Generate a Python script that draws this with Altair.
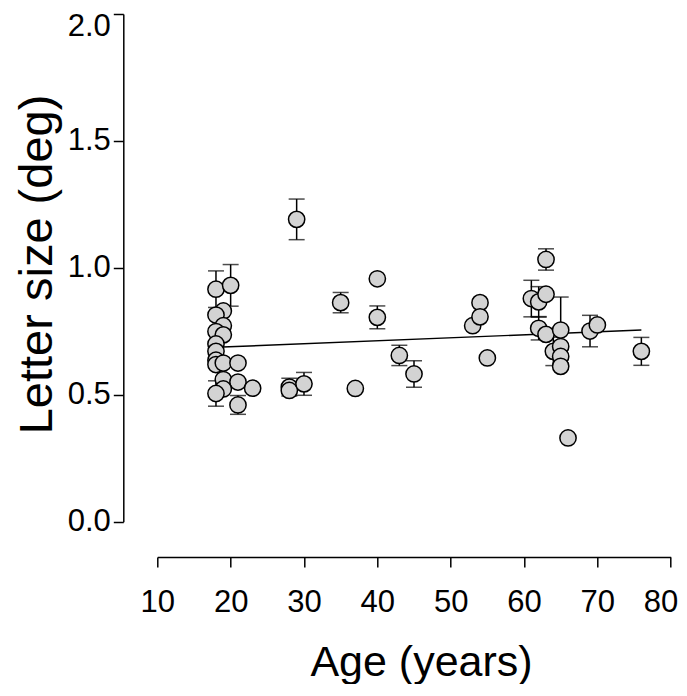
import altair as alt
import pandas as pd

# ---- data ----
ages = [18, 20, 19, 18, 19, 18, 19, 18, 18, 18, 18, 19, 21, 19, 21, 23, 19, 18, 21,
        28, 28, 29, 30, 35, 37, 40, 40, 43, 45,
        53, 54, 54, 55, 61, 62, 63, 62, 63, 65, 64, 65, 65, 65, 69, 70, 76, 66, 63]
sizes = [0.916, 0.931, 0.830, 0.814, 0.772, 0.749, 0.736, 0.700, 0.671, 0.636, 0.619, 0.625, 0.625,
         0.560, 0.550, 0.526, 0.523, 0.505, 0.460,
         0.530, 0.517, 1.191, 0.543, 0.863, 0.525, 0.957, 0.805, 0.655, 0.582,
         0.772, 0.863, 0.807, 0.645, 0.879, 0.866, 0.896, 0.762, 0.738, 0.755, 0.671, 0.690,
         0.651, 0.612, 0.751, 0.775, 0.671, 0.330, 1.033]
errors = [0.072, 0.082, 0, 0, 0, 0, 0, 0, 0, 0, 0, 0, 0, 0, 0, 0, 0, 0.050, 0.037,
          0.035, 0, 0.080, 0.045, 0.040, 0, 0, 0.045, 0.040, 0.052,
          0, 0, 0, 0, 0.072, 0.060, 0, 0.046, 0, 0.130, 0.056, 0,
          0, 0, 0.062, 0, 0.055, 0, 0.042]

fit_age = [18, 76]
fit_size = [0.687, 0.755]

x_ticks = [10, 20, 30, 40, 50, 60, 70, 80]
y_ticks = [0.0, 0.5, 1.0, 1.5, 2.0]

df = pd.DataFrame({"age": ages, "size": sizes, "err": errors})
df["lo"] = df["size"] - df["err"]
df["hi"] = df["size"] + df["err"]
err_df = df[df["err"] > 0]
fit_df = pd.DataFrame({"age": fit_age, "size": fit_size})

FONT = "Liberation Sans"

xscale = alt.Scale(domain=[10, 80], nice=False, zero=False)
yscale = alt.Scale(domain=[0, 2], nice=False, zero=False)

xaxis = alt.Axis(values=x_ticks, title="Age (years)", offset=35.3, grid=False,
                 tickSize=10, labelPadding=44, labelBaseline="alphabetic",
                 labelFlush=False, labelOverlap=False,
                 labelAlign={"condition": {"test": "datum.value == 80", "value": "right"}, "value": "center"},
                 labelOffset={"condition": {"test": "datum.value == 80", "value": 7}, "value": 0},
                 labelFontSize=31, titleFontSize=43, titleFontWeight="normal",
                 titleX=263.7, titleY=118, titleBaseline="alphabetic", titleAnchor="start",
                 titleAlign="center")
yaxis = alt.Axis(values=y_ticks, format=".1f", title="Letter size (deg)", offset=34,
                 grid=False, tickSize=10, labelPadding=3, labelFlush=False, labelOverlap=False,
                 labelOffset={"condition": {"test": "datum.value == 2", "value": 12}, "value": 0},
                 labelFontSize=31, titleFontSize=47, titleFontWeight="normal",
                 titleX=-72.3, titleY=250, titleBaseline="alphabetic", titleAngle=-90,
                 titleAlign="center")

line = alt.Chart(fit_df).mark_line(color="black", strokeWidth=1.4).encode(
    x=alt.X("age:Q", scale=xscale, axis=xaxis),
    y=alt.Y("size:Q", scale=yscale, axis=yaxis),
)

bars = alt.Chart(err_df).mark_rule(color="black", strokeWidth=1.5).encode(
    x=alt.X("age:Q", scale=xscale),
    y=alt.Y("lo:Q", scale=yscale),
    y2="hi:Q",
)
caps_hi = alt.Chart(err_df).mark_tick(color="black", orient="horizontal", size=16, thickness=1.5).encode(
    x=alt.X("age:Q", scale=xscale),
    y=alt.Y("hi:Q", scale=yscale),
)
caps_lo = alt.Chart(err_df).mark_tick(color="black", orient="horizontal", size=16, thickness=1.5).encode(
    x=alt.X("age:Q", scale=xscale),
    y=alt.Y("lo:Q", scale=yscale),
)

points = alt.Chart(df).mark_circle(size=265, fill="#d3d3d3", stroke="black",
                                   strokeWidth=1.5, opacity=1).encode(
    x=alt.X("age:Q", scale=xscale),
    y=alt.Y("size:Q", scale=yscale),
)

chart = alt.layer(line, bars, caps_hi, caps_lo, points).properties(
    width=513.4,
    height=507.7,
    autosize=alt.AutoSizeParams(type="none"),
    padding={"left": 149.3, "top": 6, "right": 8.3, "bottom": 162.3},
).configure_view(stroke=None).configure_axis(
    domainColor="black", domainWidth=1.5, tickColor="black", tickWidth=1.5,
    labelColor="black", titleColor="black", labelFont=FONT, titleFont=FONT,
)

chart.save("out.html", embed_options={"renderer": "svg", "actions": False})
